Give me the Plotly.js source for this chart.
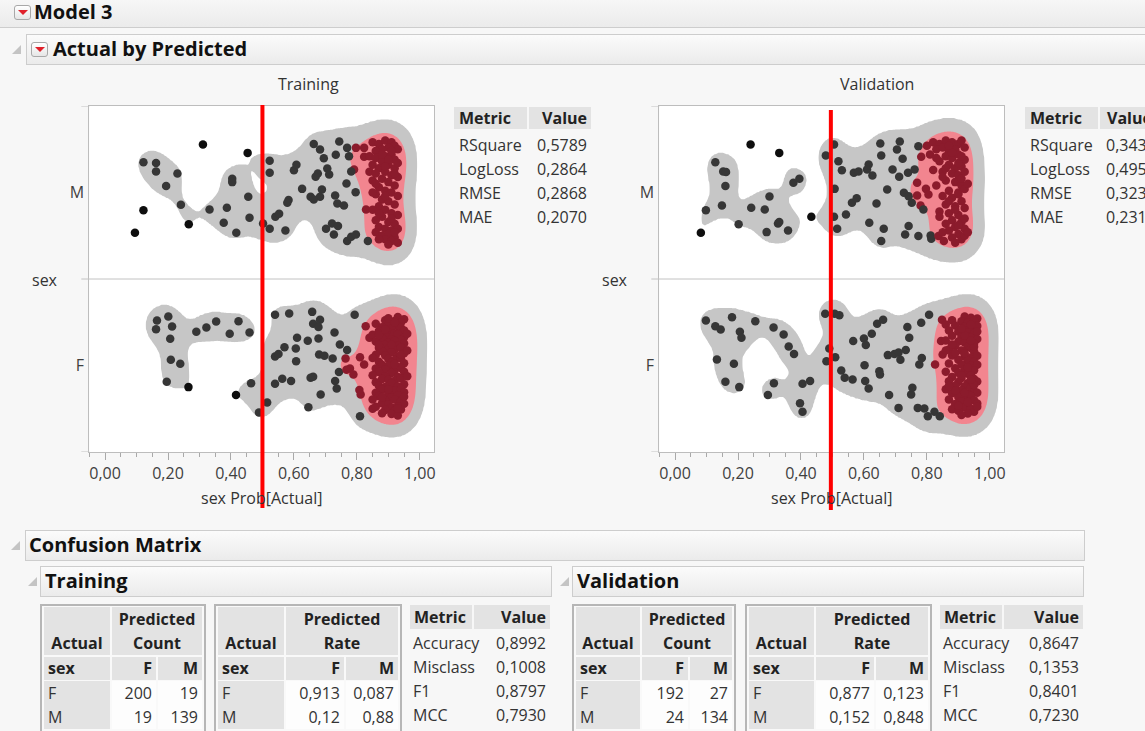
<!DOCTYPE html>
<html><head><meta charset="utf-8">
<script src="https://cdn.plot.ly/plotly-3.0.1.min.js"></script>
<style>
body{margin:0;width:1145px;height:731px;overflow:hidden;background:#f7f7f7;font-family:'Open Sans',sans-serif;color:#222;position:relative}
.bar{position:absolute;box-sizing:border-box;border:1px solid #cdcdcd;background:linear-gradient(#fbfbfb,#ebebeb)}
.ht{position:absolute;font-weight:700;font-size:20px;line-height:20px;color:#111;white-space:nowrap}
.tri{position:absolute;width:0;height:0;border-left:9px solid transparent;border-bottom:9px solid #c4c4c4}
.menu{position:absolute;width:17px;height:15px;box-sizing:border-box;border:1px solid #a8a8a8;border-radius:3px;background:linear-gradient(#fff,#e6e6e6)}
.menu:after{content:'';position:absolute;left:3px;top:4px;border-left:5px solid transparent;border-right:5px solid transparent;border-top:5px solid #e0202a}
.c{position:absolute;box-sizing:border-box;font-size:16px;line-height:24px;white-space:nowrap;color:#333;padding:0 4px}
.g{background:#e3e3e3}
.w{background:#fdfdfd}
.b{font-weight:700;color:#222}
.r{text-align:right}
.ctr{text-align:center}
.frame{position:absolute;box-sizing:border-box;border:2px solid #b6b6b6;background:#f9f9f9}
</style></head><body>
<div class="bar" style="left:-2px;top:-12px;width:1150px;height:40px"></div>
<div class="menu" style="left:14px;top:5px"></div>
<div class="ht" style="left:34px;top:2px">Model 3</div>
<div class="tri" style="left:12px;top:45px"></div>
<div class="bar" style="left:26px;top:34px;width:1125px;height:31px"></div>
<div class="menu" style="left:31px;top:42px"></div>
<div class="ht" style="left:53px;top:39px">Actual by Predicted</div>
<div id="plot" style="position:absolute;left:0;top:66px;width:1145px;height:454px"></div>
<div class="tri" style="left:11px;top:541px"></div>
<div class="bar" style="left:25px;top:530px;width:1060px;height:31px"></div>
<div class="ht" style="left:29px;top:535px">Confusion Matrix</div>
<div class="tri" style="left:28px;top:577px"></div>
<div class="bar" style="left:40px;top:566px;width:512px;height:31px"></div>
<div class="ht" style="left:45px;top:571px">Training</div>
<div class="tri" style="left:560px;top:577px"></div>
<div class="bar" style="left:572px;top:566px;width:512px;height:31px"></div>
<div class="ht" style="left:577px;top:571px">Validation</div>
<div id="ui"></div>
<script>
// ---------------- data ----------------
const cats = ['F', 'M'];
const threshold = [0.5, 0.495];
// [predicted prob of actual, jitter within category]
const trainM = [
 [0.122,0.175],[0.162,0.171],[0.162,0.121],[0.230,0.110],[0.194,0.037],
 [0.311,0.277],[0.453,0.229],[0.122,-0.102],[0.241,-0.071],[0.266,-0.183],[0.095,-0.233],[0.332,-0.098],
 [0.404,0.079],[0.404,0.060],[0.455,-0.025],[0.387,-0.088],[0.459,-0.146],[0.377,-0.175],[0.417,-0.233],
 [0.523,0.183],[0.523,0.114],[0.502,-0.179],[0.523,-0.210],[0.573,-0.219],[0.541,-0.140],[0.553,-0.123],[0.583,-0.044],[0.579,-0.059],
 [0.663,0.281],[0.683,0.249],[0.626,0.021],[0.600,0.129],[0.608,0.160],[0.695,0.198],[0.733,0.218],[0.744,0.295],[0.769,0.258],[0.797,0.258],
 [0.775,0.210],[0.676,0.110],[0.669,0.091],[0.706,0.139],[0.712,0.104],[0.689,0.017],[0.653,-0.025],[0.683,-0.025],[0.663,-0.040],[0.731,-0.017],
 [0.738,-0.063],[0.759,-0.075],[0.767,0.052],[0.796,0.002],[0.791,0.133],[0.782,0.121],[0.702,-0.210],[0.721,-0.179],[0.740,-0.194],[0.727,-0.243],
 [0.769,-0.281],[0.782,-0.256],[0.797,-0.243],[0.829,-0.098],[0.835,-0.281],[0.823,0.258],[0.823,0.206],
 [0.85,0.29],[0.87,0.28],[0.89,0.30],[0.91,0.29],[0.92,0.27],[0.90,0.26],[0.88,0.25],[0.86,0.24],[0.93,0.25],[0.84,0.21],
 [0.86,0.20],[0.89,0.21],[0.91,0.22],[0.92,0.19],[0.88,0.18],[0.85,0.16],[0.90,0.16],[0.87,0.14],[0.92,0.14],[0.84,0.12],
 [0.86,0.11],[0.89,0.12],[0.91,0.10],[0.93,0.09],[0.88,0.08],[0.85,0.07],[0.90,0.06],[0.92,0.04],[0.87,0.03],[0.89,0.01],
 [0.91,0.00],[0.86,-0.01],[0.93,-0.02],[0.88,-0.04],[0.90,-0.05],[0.92,-0.07],[0.87,-0.08],[0.85,-0.10],[0.89,-0.10],[0.91,-0.12],
 [0.93,-0.13],[0.88,-0.14],[0.86,-0.16],[0.90,-0.17],[0.92,-0.18],[0.87,-0.20],[0.89,-0.21],[0.91,-0.22],[0.93,-0.21],[0.86,-0.23],
 [0.88,-0.25],[0.90,-0.24],[0.92,-0.26],[0.89,-0.27],[0.91,-0.28],[0.93,-0.29],[0.87,-0.27],[0.90,-0.30],[0.92,-0.23],[0.88,0.22],
 [0.90,0.19],[0.86,0.05],[0.92,0.11],[0.89,-0.02],[0.87,-0.12],[0.91,0.24],[0.93,0.17],[0.85,0.00],[0.91,-0.15],[0.89,0.15]
];
const trainF = [
 [0.165,0.260],[0.201,0.283],[0.213,0.225],[0.162,0.210],[0.207,0.154],[0.209,0.033],[0.239,0.010],
 [0.196,-0.094],[0.265,-0.125],[0.416,-0.171],[0.464,-0.102],[0.540,0.293],[0.489,-0.272],
 [0.290,0.195],[0.322,0.220],[0.353,0.254],[0.396,0.183],[0.424,0.256],[0.459,0.191],
 [0.515,-0.214],[0.540,-0.106],[0.563,-0.077],[0.591,-0.090],[0.540,0.052],[0.551,0.067],[0.570,0.106],[0.585,0.300],
 [0.658,0.310],[0.683,0.264],[0.661,0.241],[0.678,0.222],[0.610,0.160],[0.606,0.098],[0.644,0.143],[0.678,0.156],[0.607,0.025],[0.680,0.064],
 [0.697,0.056],[0.723,0.041],[0.746,0.121],[0.769,0.090],[0.729,0.191],[0.764,0.041],[0.778,-0.017],[0.743,-0.037],[0.767,-0.025],[0.789,-0.052],
 [0.653,-0.071],[0.661,-0.065],[0.731,-0.090],[0.736,-0.133],[0.685,-0.168],[0.646,-0.241],[0.793,0.293],[0.828,0.227],[0.810,0.048],[0.823,0.006],
 [0.808,-0.141],[0.812,-0.168],[0.810,-0.293],[0.850,-0.250],[0.840,0.160],
 [0.93,0.281],[0.95,0.268],[0.89,0.262],[0.92,0.257],[0.94,0.249],[0.86,0.241],[0.90,0.236],[0.93,0.229],[0.88,0.221],[0.91,0.214],
 [0.94,0.218],[0.95,0.203],[0.87,0.199],[0.90,0.192],[0.92,0.186],[0.85,0.178],[0.89,0.172],[0.93,0.181],[0.95,0.163],[0.88,0.158],
 [0.91,0.152],[0.94,0.147],[0.86,0.139],[0.90,0.133],[0.92,0.141],[0.95,0.127],[0.89,0.118],[0.93,0.112],[0.87,0.103],[0.90,0.097],
 [0.92,0.091],[0.94,0.104],[0.88,0.082],[0.91,0.076],[0.95,0.071],[0.86,0.062],[0.89,0.058],[0.93,0.051],[0.85,0.043],[0.90,0.037],
 [0.92,0.032],[0.94,0.041],[0.87,0.022],[0.91,0.016],[0.95,0.013],[0.88,0.004],[0.90,-0.003],[0.93,-0.008],[0.86,-0.017],[0.89,-0.022],
 [0.92,-0.027],[0.94,-0.014],[0.87,-0.038],[0.91,-0.043],[0.95,-0.036],[0.85,-0.057],[0.89,-0.062],[0.93,-0.066],[0.88,-0.078],[0.90,-0.083],
 [0.92,-0.088],[0.94,-0.074],[0.86,-0.097],[0.91,-0.103],[0.95,-0.108],[0.87,-0.117],[0.89,-0.124],[0.93,-0.121],[0.88,-0.138],[0.92,-0.143],
 [0.94,-0.136],[0.86,-0.158],[0.90,-0.162],[0.95,-0.154],[0.87,-0.177],[0.91,-0.183],[0.93,-0.172],[0.85,-0.197],[0.89,-0.203],[0.92,-0.196],
 [0.94,-0.208],[0.88,-0.218],[0.90,-0.224],[0.95,-0.221],[0.86,-0.238],[0.91,-0.243],[0.93,-0.236],[0.89,-0.257],[0.92,-0.262],[0.94,-0.255],
 [0.88,-0.276],[0.91,-0.281],[0.93,-0.289],[0.90,0.273],[0.87,0.176],[0.94,0.062],[0.90,-0.137],[0.92,0.008],[0.87,0.118],[0.93,-0.247],
 [0.89,0.209],[0.95,-0.181],[0.91,0.121],[0.88,-0.182],[0.92,0.248],[0.96,0.087],[0.96,-0.062],[0.96,0.184]
];
const validM = [
 [0.128,0.175],[0.153,0.121],[0.162,0.118],[0.160,0.037],[0.149,-0.075],[0.242,-0.088],[0.285,-0.098],[0.300,-0.023],[0.327,-0.179],[0.331,-0.171],[0.359,-0.219],[0.291,-0.229],
 [0.240,0.277],[0.331,0.229],[0.376,0.056],[0.395,0.079],[0.098,-0.102],[0.082,-0.233],[0.202,-0.183],[0.433,-0.140],
 [0.479,0.214],[0.505,0.277],[0.519,0.181],[0.530,0.129],[0.507,0.021],[0.505,-0.140],[0.515,-0.210],[0.543,-0.127],[0.562,-0.059],[0.577,-0.033],
 [0.568,0.114],[0.583,0.121],[0.615,0.162],[0.627,0.098],[0.610,0.133],
 [0.652,0.283],[0.655,0.214],[0.714,0.295],[0.705,0.249],[0.723,0.195],[0.691,0.133],[0.712,0.091],[0.740,0.114],[0.761,0.133],[0.769,0.056],
 [0.782,0.206],[0.773,0.268],[0.674,0.017],[0.640,-0.063],[0.617,-0.175],[0.663,-0.210],[0.655,-0.281],[0.727,-0.002],[0.742,-0.021],[0.752,-0.059],
 [0.769,-0.017],[0.780,-0.075],[0.789,-0.098],[0.742,-0.194],[0.731,-0.243],[0.773,-0.252],[0.812,-0.248],[0.814,-0.268],[0.837,-0.252],[0.854,-0.281],
 [0.797,0.021],[0.805,-0.011],
 [0.80,0.27],[0.82,0.29],[0.84,0.28],[0.86,0.30],[0.88,0.29],[0.90,0.28],[0.91,0.30],[0.83,0.25],[0.85,0.26],[0.87,0.24],
 [0.89,0.25],[0.92,0.26],[0.81,0.22],[0.86,0.21],[0.88,0.20],[0.90,0.22],[0.92,0.19],[0.84,0.18],[0.87,0.16],[0.89,0.14],
 [0.91,0.15],[0.85,0.12],[0.88,0.11],[0.90,0.10],[0.92,0.12],[0.86,0.07],[0.89,0.06],[0.91,0.04],[0.83,0.04],[0.87,0.01],
 [0.90,0.00],[0.92,0.02],[0.85,-0.02],[0.88,-0.03],[0.91,-0.05],[0.86,-0.07],[0.89,-0.08],[0.92,-0.09],[0.84,-0.11],[0.87,-0.12],
 [0.90,-0.13],[0.88,-0.16],[0.91,-0.17],[0.86,-0.18],[0.89,-0.20],[0.92,-0.21],[0.87,-0.22],[0.90,-0.24],[0.88,-0.26],[0.91,-0.27],
 [0.92,-0.25],[0.89,-0.29],[0.85,-0.23],[0.93,-0.23],[0.90,0.17],[0.86,0.14],[0.83,0.20],[0.91,0.08],[0.87,-0.05],[0.90,-0.19],
 [0.92,-0.15],[0.88,0.23],[0.85,0.09],[0.89,-0.10],[0.91,0.21],[0.84,-0.14],[0.93,0.05],[0.87,0.27],[0.82,0.13],[0.90,-0.01]
];
const validF = [
 [0.098,0.260],[0.128,0.227],[0.145,0.208],[0.181,0.279],[0.206,0.195],[0.211,0.160],[0.255,0.256],[0.313,0.220],[0.345,0.179],[0.361,0.110],
 [0.378,0.067],[0.133,0.035],[0.187,0.010],[0.160,-0.094],[0.204,-0.125],
 [0.295,-0.171],[0.314,-0.102],[0.405,-0.268],
 [0.405,-0.106],[0.429,-0.090],[0.397,-0.218],
 [0.477,0.299],[0.507,0.299],[0.522,0.291],[0.490,0.098],[0.481,0.025],[0.509,0.048],[0.528,-0.029],[0.539,-0.071],[0.564,-0.081],[0.566,0.141],
 [0.600,0.156],[0.606,0.118],[0.625,0.183],[0.642,0.241],[0.661,0.264],[0.602,0.002],[0.604,-0.090],[0.615,-0.133],[0.649,-0.033],[0.651,-0.052],
 [0.738,0.222],[0.744,0.160],[0.733,0.090],[0.676,0.060],[0.697,0.067],[0.710,0.075],[0.716,0.033],[0.776,0.006],[0.784,0.044],[0.782,0.247],
 [0.807,0.293],[0.680,-0.171],[0.710,-0.245],[0.750,-0.168],[0.754,-0.129],[0.771,-0.245],[0.792,-0.249],[0.803,-0.293],[0.824,-0.268],[0.841,-0.293],
 [0.826,0.006],[0.848,0.264],[0.845,0.141],
 [0.92,0.283],[0.94,0.276],[0.96,0.271],[0.88,0.262],[0.91,0.256],[0.93,0.249],[0.95,0.258],[0.86,0.237],[0.89,0.231],[0.92,0.224],
 [0.94,0.218],[0.96,0.229],[0.87,0.203],[0.90,0.197],[0.93,0.192],[0.95,0.186],[0.88,0.172],[0.91,0.166],[0.94,0.161],[0.96,0.153],
 [0.86,0.144],[0.90,0.139],[0.92,0.133],[0.95,0.127],[0.89,0.114],[0.93,0.108],[0.94,0.101],[0.87,0.092],[0.91,0.087],[0.95,0.081],
 [0.85,0.064],[0.88,0.058],[0.92,0.052],[0.94,0.046],[0.96,0.057],[0.90,0.033],[0.93,0.027],[0.95,0.021],[0.87,0.012],[0.91,0.006],
 [0.94,-0.002],[0.96,0.004],[0.89,-0.016],[0.92,-0.021],[0.95,-0.027],[0.86,-0.036],[0.90,-0.042],[0.93,-0.047],[0.94,-0.058],[0.88,-0.067],
 [0.91,-0.072],[0.95,-0.078],[0.87,-0.091],[0.90,-0.096],[0.93,-0.102],[0.96,-0.093],[0.89,-0.117],[0.92,-0.122],[0.94,-0.128],[0.86,-0.137],
 [0.91,-0.143],[0.95,-0.149],[0.88,-0.161],[0.93,-0.166],[0.96,-0.158],[0.90,-0.182],[0.92,-0.188],[0.94,-0.176],[0.87,-0.196],[0.91,-0.207],
 [0.95,-0.201],[0.89,-0.222],[0.93,-0.228],[0.96,-0.219],[0.92,-0.243],[0.94,-0.249],[0.88,-0.253],[0.90,-0.262],[0.95,-0.267],[0.93,-0.278],
 [0.91,-0.286],[0.94,0.236],[0.92,0.174],[0.95,0.109],[0.89,0.072],[0.93,-0.011],[0.91,-0.057],[0.95,-0.112],[0.89,-0.144],[0.93,-0.211],
 [0.91,0.212],[0.88,0.121],[0.94,0.143],[0.96,0.196],[0.92,0.071],[0.94,-0.083],[0.90,-0.232],[0.92,-0.157],[0.96,-0.238],[0.86,0.087],[0.87,-0.118]
];
const fitNames = ['RSquare', 'LogLoss', 'RMSE', 'MAE'];
const trainFit = [0.5789, 0.2864, 0.2868, 0.2070];
const validFit = [0.343, 0.495, 0.323, 0.231];
const cmNames = ['Accuracy', 'Misclass', 'F1', 'MCC'];
const trainCM = [0.8992, 0.1008, 0.8797, 0.7930];
const validCM = [0.8647, 0.1353, 0.8401, 0.7230];
const trainCounts = [[200, 19], [19, 139]];
const validCounts = [[192, 27], [24, 134]];
const trainRates = [[0.913, 0.087], [0.12, 0.88]];
const validRates = [[0.877, 0.123], [0.152, 0.848]];

// ---------------- density contours ----------------
const HX = 0.037, HY = 0.08, GRAY = 1.5, PINK = 7;
const XR = [-0.05, 1.045];
function level(d) { return d < GRAY ? d / GRAY : d < PINK ? 1 + (d - GRAY) / (PINK - GRAY) : 2 + Math.min(1, (d - PINK) / PINK); }
function densityGrid(pts, row) {
  const gx = [], gy = [];
  for (let i = 0; ; i++) { const x = XR[0] + i * 0.004; if (x > XR[1] + 1e-9) break; gx.push(x); }
  for (let k = 0; k <= 100; k++) gy.push(row - 0.5 + k * 0.01);
  const ex = gx.map(x => pts.map(p => Math.exp(-0.5 * ((x - p[0]) / HX) ** 2)));
  const ey = gy.map(y => pts.map(p => Math.exp(-0.5 * ((y - row - p[1]) / HY) ** 2)));
  const z = gy.map((y, j) => gx.map((x, i) => { let s = 0; const a = ex[i], b = ey[j]; for (let k = 0; k < a.length; k++) s += a[k] * b[k]; return level(s); }));
  return { gx, gy, z };
}
function densAt(pts, x, j) {
  let s = 0;
  for (const p of pts) s += Math.exp(-0.5 * ((x - p[0]) / HX) ** 2 - 0.5 * ((j - p[1]) / HY) ** 2);
  return s;
}
function panelTraces(ptsF, ptsM, xa, ya) {
  const out = [];
  const rows = [[ptsF, 0], [ptsM, 1]];
  rows.forEach(([pts, row]) => {
    const d = densityGrid(pts, row);
    out.push({ type: 'contour', x: d.gx, y: d.gy, z: d.z, xaxis: xa, yaxis: ya, autocontour: false,
      contours: { start: 1, end: 2, size: 1, coloring: 'fill', showlines: false }, line: { width: 0, smoothing: 1.3 },
      colorscale: [[0, 'rgba(255,255,255,0)'], [0.5, '#c6c6c6'], [1, '#f2858f']], showscale: false, hoverinfo: 'skip' });
  });
  const xs = [], ys = [], cs = [];
  rows.forEach(([pts, row]) => {
    pts.forEach(p => {
      const d = densAt(pts, p[0], p[1]);
      xs.push(p[0]); ys.push(row + p[1]);
      cs.push(d >= PINK ? '#8b1b2c' : d >= GRAY ? '#363636' : '#0e0e0e');
    });
  });
  out.push({ type: 'scatter', mode: 'markers', x: xs, y: ys, xaxis: xa, yaxis: ya,
    marker: { size: 8.5, color: cs, line: { width: 0 } }, hoverinfo: 'skip' });
  return out;
}

// ---------------- layout ----------------
const W = 1145, TOP = 66, H = 454;
const px = X => X / W;
const py = Y => 1 - (Y - TOP) / H;
function xax(dom, anchor) {
  return { domain: dom, anchor: anchor, range: XR, tick0: 0, dtick: 0.2, tickformat: '.2f', ticks: 'outside', ticklen: 7,
    tickcolor: '#a9a9a9', showline: true, linecolor: '#bdbdbd', mirror: true, showgrid: false, zeroline: false,
    tickfont: { family: 'Open Sans', size: 16, color: '#404040' },
    minor: { tick0: 0, dtick: 0.05, ticks: 'outside', ticklen: 4, tickcolor: '#a9a9a9' }, fixedrange: true };
}
function yax(anchor) {
  return { domain: [py(452), py(106)], anchor: anchor, range: [-0.5, 1.5], tickmode: 'array', tickvals: [0, 1], ticktext: cats,
    ticks: 'outside', ticklen: 1, tickcolor: 'rgba(0,0,0,0)', showline: true, linecolor: '#bdbdbd', mirror: true,
    showgrid: false, zeroline: false, tickfont: { family: 'Open Sans', size: 16, color: '#404040' }, fixedrange: true };
}
const panels = [
  { name: 'Training', left: 89.3, right: 434, xa: 'x', ya: 'y', thr: threshold[0], redTop: 105, redBot: 508, titleX: 308, sexX: 45 },
  { name: 'Validation', left: 659.3, right: 1004, xa: 'x2', ya: 'y2', thr: threshold[1], redTop: 110, redBot: 510, titleX: 877, sexX: 615 }
];
const shapes = [], annotations = [];
const ann = (text, X, Y) => ({ text: text, xref: 'paper', yref: 'paper', x: px(X), y: py(Y), xanchor: 'center', yanchor: 'middle',
  showarrow: false, font: { size: 16, color: '#333' } });
panels.forEach(p => {
  const yref = p.ya;
  shapes.push({ type: 'line', xref: 'paper', yref: yref, x0: px(p.left - 8), x1: px(p.right), y0: 0.5, y1: 0.5, line: { color: '#c2c2c2', width: 1 } });
  shapes.push({ type: 'line', xref: 'paper', yref: yref, x0: px(p.left - 8), x1: px(p.left), y0: -0.5, y1: -0.5, line: { color: '#c2c2c2', width: 1 } });
  shapes.push({ type: 'line', xref: 'paper', yref: yref, x0: px(p.left - 8), x1: px(p.left), y0: 1.5, y1: 1.5, line: { color: '#c2c2c2', width: 1 } });
  shapes.push({ type: 'line', xref: p.xa, yref: 'paper', x0: p.thr, x1: p.thr, y0: py(p.redBot), y1: py(p.redTop), line: { color: '#ff0000', width: 4 }, layer: 'above' });
  annotations.push(ann(p.name, p.titleX, 84));
  annotations.push(ann('sex', p.sexX, 280));
  annotations.push(ann('sex Prob[Actual]', (p.left + p.right) / 2, 498));
});
const layout = {
  width: W, height: H, margin: { l: 0, r: 0, t: 0, b: 0 }, paper_bgcolor: 'rgba(0,0,0,0)', plot_bgcolor: '#ffffff',
  showlegend: false, separators: ',.', font: { family: 'Open Sans', size: 16, color: '#333' },
  xaxis: xax([px(89.3), px(434)], 'y'), yaxis: yax('x'),
  xaxis2: xax([px(659.3), px(1004)], 'y2'), yaxis2: yax('x2'),
  shapes: shapes, annotations: annotations
};
const traces = [].concat(panelTraces(trainF, trainM, 'x', 'y'), panelTraces(validF, validM, 'x2', 'y2'));
Plotly.newPlot('plot', traces, layout, { staticPlot: true, displayModeBar: false });

// ---------------- report tables ----------------
const ui = document.getElementById('ui');
const fmt = v => String(v).replace('.', ',');
const fmt4 = v => v.toFixed(4).replace('.', ',');
function cell(x, y, w, h, html, cls, extra) {
  const d = document.createElement('div');
  d.className = 'c ' + (cls || '');
  d.style.left = x + 'px'; d.style.top = y + 'px'; d.style.width = w + 'px'; d.style.height = h + 'px';
  if (extra) Object.assign(d.style, extra);
  d.innerHTML = html; ui.appendChild(d); return d;
}
function frame(x, y, w, h) {
  const d = document.createElement('div'); d.className = 'frame';
  d.style.left = x + 'px'; d.style.top = y + 'px'; d.style.width = w + 'px'; d.style.height = h + 'px'; ui.appendChild(d);
}
function fitTable(x, vx, names, vals, rightAlign, fmtFn) {
  cell(x, 107, vx - x - 2, 22, 'Metric', 'g b', { lineHeight: '22px', paddingLeft: '5px' });
  cell(vx, 107, 62, 22, 'Value', 'g b ' + (rightAlign ? 'r' : ''), { lineHeight: '22px', paddingLeft: '7px' });
  names.forEach((n, i) => {
    cell(x, 133 + i * 24, vx - x - 2, 24, n, '', { paddingLeft: '5px' });
    cell(vx, 133 + i * 24, 62, 24, fmtFn(vals[i]), rightAlign ? 'r' : '', { paddingLeft: '6px' });
  });
}
fitTable(454, 529, fitNames, trainFit, true, fmt4);
fitTable(1025, 1100, fitNames, validFit, false, fmt);

function matrixTable(x0, w, c, sub, vals, f) {
  frame(x0, 604, w, 140);
  cell(c[0], 607, c[1], 48, 'Actual', 'g b ctr', { paddingTop: '24px' });
  cell(c[2], 607, c[3] + c[5] + 2, 48, 'Predicted<br>' + sub, 'g b ctr');
  cell(c[0], 657, c[1], 23, 'sex', 'g b', { lineHeight: '23px' });
  cell(c[2], 657, c[3], 23, cats[0], 'g b r', { lineHeight: '23px' });
  cell(c[4], 657, c[5], 23, cats[1], 'g b r', { lineHeight: '23px' });
  cats.forEach((cat, i) => {
    cell(c[0], 681 + i * 24, c[1], 24, cat, 'g');
    cell(c[2], 681 + i * 24, c[3], 24, f(vals[i][0]), 'w r');
    cell(c[4], 681 + i * 24, c[5], 24, f(vals[i][1]), 'w r');
  });
}
function cmTable(x, vx, right, vals) {
  cell(x, 605, vx - x - 2, 24, 'Metric', 'g b');
  cell(vx, 605, right - vx, 24, 'Value', 'g b r');
  cmNames.forEach((n, i) => {
    cell(x, 631 + i * 24, vx - x - 2, 24, n, '', { paddingLeft: '3px' });
    cell(vx, 631 + i * 24, right - vx, 24, fmt4(vals[i]), 'r');
  });
}
matrixTable(40, 166, [44, 66, 112, 44, 158, 44], 'Count', trainCounts, String);
matrixTable(214, 188, [218, 66, 286, 58, 346, 52], 'Rate', trainRates, fmt);
cmTable(410, 474, 550, trainCM);
matrixTable(572, 164, [576, 64, 642, 46, 690, 42], 'Count', validCounts, String);
matrixTable(745, 187, [749, 65, 816, 58, 876, 52], 'Rate', validRates, fmt);
cmTable(940, 1004, 1083, validCM);
</script>
</body></html>
